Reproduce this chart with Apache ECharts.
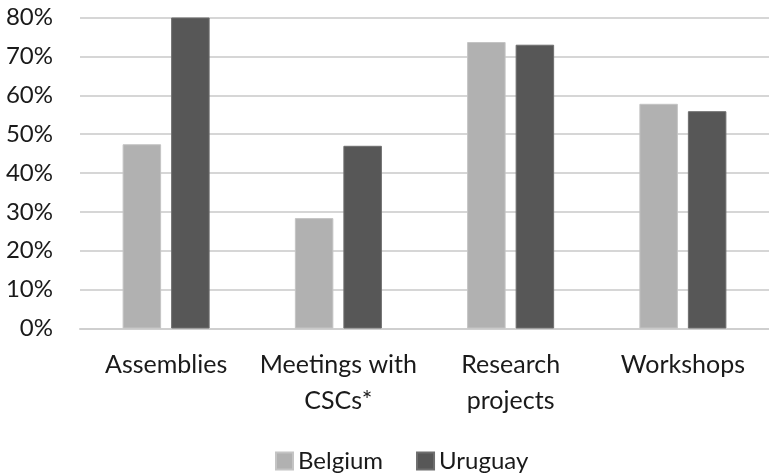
<!DOCTYPE html>
<html>
<head>
<meta charset="utf-8">
<style>
  html, body { margin: 0; padding: 0; background: #ffffff; }
  #chart { width: 769px; height: 476px; }
</style>
<script src="https://cdn.jsdelivr.net/npm/echarts@6/dist/echarts.min.js"></script>
</head>
<body>
<div id="chart"></div>
<script>
// Activity categories along the x axis
const categories = ['Assemblies', 'Meetings with\nCSCs*', 'Research\nprojects', 'Workshops'];
// Share of respondents per activity (fractions)
const belgium = [0.474, 0.284, 0.737, 0.578];
const uruguay = [0.800, 0.470, 0.730, 0.559];
const seriesNames = ['Belgium', 'Uruguay'];
// Y axis range
const yMin = 0, yMax = 0.8, yStep = 0.1;

const FONT = 'Lato';
const TEXT = '#1a1a1a';
const chart = echarts.init(document.getElementById('chart'), null, { renderer: 'canvas' });

chart.setOption({
  backgroundColor: '#ffffff',
  animation: false,
  textStyle: { fontFamily: FONT, color: TEXT },
  grid: { left: 80, top: 17.5, width: 692, height: 311, containLabel: false },
  legend: {
    data: seriesNames,
    left: 270,
    top: 444,
    itemWidth: 17,
    itemHeight: 17,
    itemGap: 33,
    icon: 'rect',
    textStyle: { fontFamily: FONT, fontSize: 24, color: TEXT }
  },
  xAxis: {
    type: 'category',
    data: categories,
    axisLine: { show: true, lineStyle: { color: '#cfcfcf', width: 2 } },
    axisTick: { show: false },
    axisLabel: {
      fontFamily: FONT, fontSize: 25, color: TEXT,
      lineHeight: 36, margin: 18, interval: 0
    }
  },
  yAxis: {
    type: 'value',
    min: yMin, max: yMax, interval: yStep,
    axisLine: { show: false },
    axisTick: { show: false },
    splitLine: { lineStyle: { color: '#d6d6d6', width: 2 } },
    axisLabel: {
      fontFamily: FONT, fontSize: 24, color: TEXT, margin: 27,
      formatter: v => Math.round(v * 100) + '%'
    }
  },
  series: [
    {
      name: seriesNames[0], type: 'bar', data: belgium,
      barWidth: 38.5, barGap: '26%',
      itemStyle: { color: '#b1b1b1', borderColor: '#c4c4c4', borderWidth: 1 }
    },
    {
      name: seriesNames[1], type: 'bar', data: uruguay,
      barWidth: 38.5, barGap: '26%',
      itemStyle: { color: '#575757', borderColor: '#6e6e6e', borderWidth: 1 }
    }
  ]
});
</script>
</body>
</html>
